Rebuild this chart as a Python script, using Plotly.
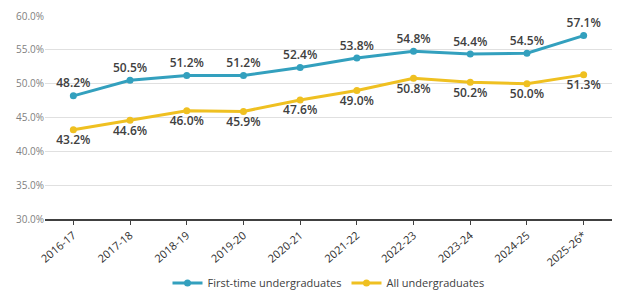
import plotly.graph_objects as go

years = ["2016-17", "2017-18", "2018-19", "2019-20", "2020-21", "2021-22",
         "2022-23", "2023-24", "2024-25", "2025-26*"]
first_time = [48.2, 50.5, 51.2, 51.2, 52.4, 53.8, 54.8, 54.4, 54.5, 57.1]
all_ug = [43.2, 44.6, 46.0, 45.9, 47.6, 49.0, 50.8, 50.2, 50.0, 51.3]
y_ticks = [30, 35, 40, 45, 50, 55, 60]

blue = "#33A0BE"
yellow = "#EFC021"
font_family = "Open Sans, DejaVu Sans, sans-serif"

fig = go.Figure()
fig.add_trace(go.Scatter(
    x=years, y=first_time, name="First-time undergraduates",
    mode="lines+markers+text",
    line=dict(color=blue, width=3), marker=dict(color=blue, size=7),
    text=[f"{v:.1f}%" for v in first_time], textposition="top center",
    textfont=dict(size=12, color="#404040", family=font_family, weight=600),
))
fig.add_trace(go.Scatter(
    x=years, y=all_ug, name="All undergraduates",
    mode="lines+markers+text",
    line=dict(color=yellow, width=3), marker=dict(color=yellow, size=7),
    text=[f"{v:.1f}%" for v in all_ug], textposition="bottom center",
    textfont=dict(size=12, color="#404040", family=font_family, weight=600),
))

fig.update_layout(
    width=624, height=302,
    margin=dict(l=45, r=12, t=16, b=83, autoexpand=False),
    plot_bgcolor="white", paper_bgcolor="white",
    font=dict(family=font_family, color="#595959"),
    showlegend=True,
    legend=dict(orientation="h", x=0.5, xanchor="center",
                yref="container", y=0.063, yanchor="middle",
                font=dict(size=11, color="#404040"), itemwidth=30),
    xaxis=dict(
        type="category", tickangle=-40, tickfont=dict(size=11, color="#303030"),
        showline=True, linecolor="#404040", linewidth=1.5,
        ticks="outside", ticklen=4, tickcolor="#404040",
        showgrid=False, range=[-0.5, len(years) - 0.5], automargin=False,
    ),
    yaxis=dict(
        range=[30, 60], tickvals=y_ticks,
        ticktext=[f"{v:.1f}%" for v in y_ticks],
        tickfont=dict(size=10, color="#808080"),
        showgrid=True, gridcolor="#E0E0E0", gridwidth=1,
        zeroline=False, showline=False, ticks="", automargin=False,
    ),
)

fig.write_html("out.html")
